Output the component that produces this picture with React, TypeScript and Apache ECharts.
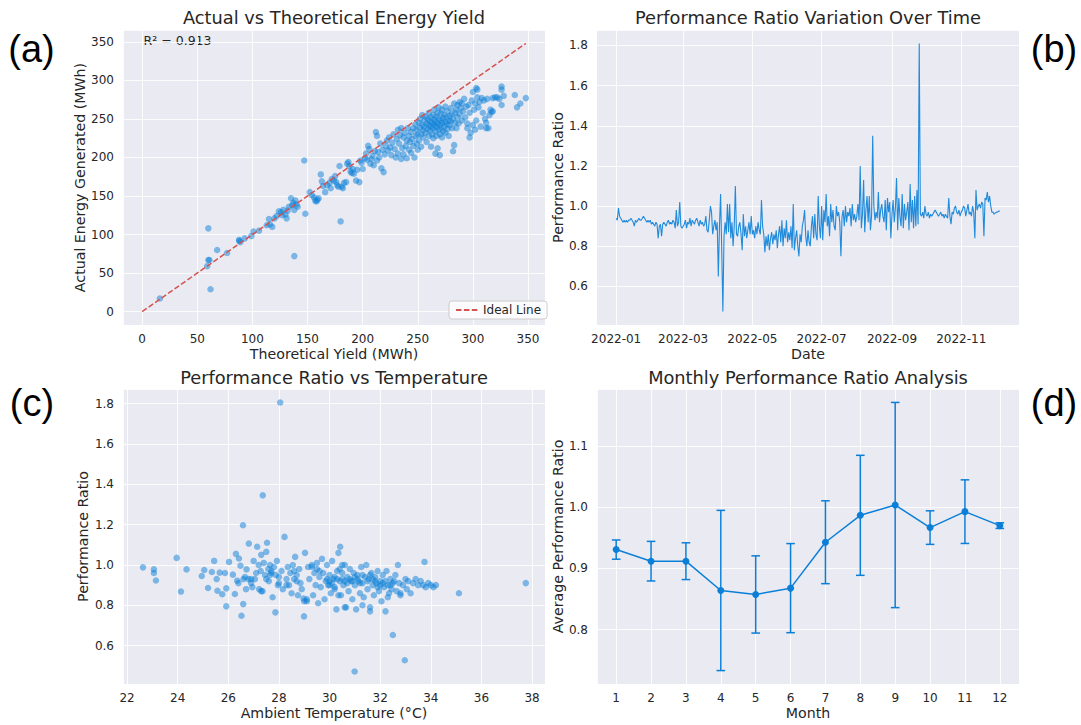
import React, { useEffect, useRef } from "react";
import * as echarts from "echarts";

// ---------- DATA ----------
// (a) [theoretical yield, actual energy] in MWh
const yieldPairs: number[][] = [
  [16,17],[59,59],[60,67],[61,67],[60,108],[62,29],[68,80],[77,76],[88,92],[89,90],[88,93],[93,95],[99,98],[101,104],[106,105],
  [113,112],[115,120],[116,113],[118,110],[120,121],[122,124],[124,130],[126,129],[127,125],[128,132],[130,126],[131,121],[132,131],
  [133,136],[135,147],[136,138],[137,141],[138,132],[139,144],[140,139],[141,136],[138,72],[147,196],[148,127],
  [152,155],[154,151],[156,148],[157,144],[158,143],[159,145],[160,147],[162,178],[163,169],[164,163],[166,155],[168,164],[170,167],
  [171,160],[172,172],[174,170],[175,176],[176,168],[177,164],[178,162],[179,189],[180,117],[181,162],[182,160],[183,167],[185,168],
  [186,192],[187,194],[188,189],[189,182],[190,180],[191,185],[192,179],[194,170],[195,184],[197,168],[198,196],[199,193],[200,185],
  [202,199],[203,205],[204,197],[205,215],[206,211],[207,192],[208,198],[209,202],[210,190],[211,208],[212,233],[213,228],[213,196],
  [214,207],[215,200],[216,218],[217,186],[218,210],[219,181],[220,204],[221,215],[222,222],[223,209],[224,226],[225,213],[226,203],
  [227,219],[228,230],[229,211],[230,200],[231,224],[232,236],[232,205],[233,218],[234,229],[235,198],[235,238],[236,212],[237,204],
  [237,226],[238,232],[239,215],[240,222],[240,199],[241,238],[242,210],[242,228],[243,220],[244,206],[244,233],[245,224],[246,215],
  [246,238],[247,200],[248,228],[248,243],[249,218],[249,236],[250,210],[250,230],
  [251,245],[251,222],[252,238],[252,250],[253,230],[253,214],[254,242],[254,255],[255,235],[255,226],[256,248],[256,240],[257,232],
  [257,253],[258,220],[258,244],[259,237],[259,250],[260,228],[260,258],[260,242],[261,235],[261,247],[262,252],[262,214],[262,240],
  [263,230],[263,245],[264,255],[264,238],[264,225],[265,249],[265,242],[265,262],[266,234],[266,246],[266,205],[267,253],[267,240],
  [267,228],[268,244],[268,258],[268,212],[269,236],[269,250],[269,265],[270,242],[270,230],[270,203],[271,248],[271,257],[271,238],
  [272,245],[272,226],[272,262],[273,251],[273,234],[274,240],[274,255],[275,246],[275,232],[275,266],[276,243],[276,252],[277,237],
  [277,260],[278,248],[278,228],[279,254],[279,242],[280,264],[280,247],[281,238],[281,256],[282,208],[282,250],[283,216],[283,270],
  [284,245],[284,258],[285,262],[285,238],[286,252],[286,268],[287,244],[288,272],[288,256],[289,264],[290,248],[290,270],
  [291,260],[292,276],[293,252],[294,266],[295,244],[295,238],[296,268],[297,226],[297,258],[298,232],[299,274],[300,285],[300,242],
  [301,262],[302,236],[302,270],[303,248],[303,290],[304,288],[304,278],[305,265],[306,272],[307,240],[308,277],[309,258],[310,274],
  [311,250],[312,245],[312,238],[313,276],[314,238],[315,255],[316,262],[317,259],[318,277],[318,260],[320,278],[322,278],[324,276],
  [326,288],[326,268],[326,292],[328,280],[338,281],[340,265],[343,270],[348,277]
];
const idealLine: number[][] = [[0, 0], [348, 348]];
const r2Text = "R² = 0.913";

// (b) daily performance ratio, starting 2022-01-01
const startDate = "2022-01-01";
const dailyPR: number[] = [
  // Jan
  0.94,0.93,0.99,0.95,0.94,0.93,0.92,0.93,0.92,0.93,0.92,0.93,0.93,0.94,0.93,0.92,0.90,0.93,0.92,0.93,0.94,0.93,0.93,0.94,0.95,0.94,0.93,0.92,0.93,0.92,0.93,
  // Feb
  0.91,0.92,0.91,0.90,0.92,0.91,0.84,0.90,0.91,0.85,0.91,0.92,0.91,0.90,0.92,0.93,0.91,0.92,0.91,0.93,0.92,0.89,0.98,0.90,0.92,1.02,0.90,0.89,
  // Mar
  0.90,0.91,0.93,0.89,0.92,0.91,0.94,0.90,0.93,0.92,0.91,0.93,0.94,0.92,0.90,0.93,0.91,0.92,0.90,0.91,0.95,0.88,0.87,0.93,1.00,0.97,0.86,0.90,0.93,0.88,0.92,
  // Apr
  0.65,0.90,1.06,0.78,0.475,0.85,0.92,0.86,1.01,0.87,1.01,0.84,0.92,0.80,0.90,1.10,0.86,0.85,0.90,0.92,0.86,0.78,0.96,0.85,0.90,0.84,0.88,0.92,0.86,0.95,
  // May
  0.86,0.88,0.84,0.90,0.86,0.92,0.88,0.86,1.03,0.90,0.86,0.77,0.85,0.80,0.86,0.78,0.84,0.87,0.81,0.86,0.83,0.88,0.79,0.86,0.90,0.82,0.93,0.80,0.89,0.84,0.93,
  // Jun
  0.82,0.87,0.83,0.90,0.79,1.01,0.78,0.84,0.88,0.80,0.75,0.86,0.82,0.90,0.93,0.98,0.85,0.80,0.88,0.82,0.80,0.90,0.95,0.84,0.96,0.86,0.83,1.05,0.90,0.84,
  // Jul
  1.00,0.83,0.98,0.92,1.06,0.90,0.95,0.85,1.01,0.92,0.98,0.90,0.88,1.00,0.95,0.97,0.92,0.75,0.95,0.98,0.90,1.00,0.92,0.97,0.95,0.99,0.90,1.01,0.93,0.96,0.92,
  // Aug
  0.95,1.01,0.93,1.20,0.89,0.96,1.13,0.87,0.98,1.05,0.92,1.05,0.88,0.95,1.35,1.00,0.93,0.97,0.94,1.07,0.92,0.98,1.01,0.95,0.92,1.03,0.88,1.04,0.97,1.02,0.84,
  // Sep
  0.96,1.03,0.92,0.99,1.14,0.88,1.04,0.95,0.90,1.06,0.89,1.01,0.93,0.97,1.02,0.88,1.11,0.92,1.03,0.89,1.05,0.90,1.08,0.91,1.81,0.96,0.95,0.97,0.94,1.00,
  // Oct
  0.96,0.95,0.97,0.94,0.96,0.95,0.96,0.97,0.98,0.97,0.96,0.95,0.96,0.97,0.95,0.96,0.94,0.96,0.95,0.94,1.04,0.95,0.91,0.97,0.96,0.99,1.00,0.97,0.96,0.98,0.95,
  // Nov
  0.97,0.98,1.00,0.99,0.95,0.98,1.01,0.96,0.97,0.95,1.00,0.97,0.84,1.08,0.98,1.00,1.01,0.99,1.02,1.01,0.85,1.04,1.03,1.07,1.02,1.05,1.00,0.97,0.97,0.96,
  // Dec
  0.965,0.97,0.97,0.975,0.975
];
const dateTicks: string[] = ["2022-01-01", "2022-03-01", "2022-05-01", "2022-07-01", "2022-09-01", "2022-11-01"];

// (c) [ambient temperature °C, performance ratio]
const tempPR: number[][] = [
  [22.63,0.988],[23.06,0.978],[23.06,0.960],[23.14,0.923],[23.96,1.035],[24.13,0.868],[24.35,0.978],[28.05,1.805],[27.36,1.345],
  [26.58,1.197],[28.22,1.139],[30.99,0.472],[32.5,0.653],[32.97,0.528],[35.11,0.86],[37.75,0.91],[33.75,1.015],
  [24.95,0.945],[25.05,0.975],[25.2,0.886],[25.35,0.965],[25.44,1.02],[25.54,0.93],[25.57,0.872],[25.66,0.962],[25.76,0.855],
  [25.87,0.96],[25.92,0.795],[25.92,0.884],[26.03,1.015],[26.18,0.952],[26.26,0.856],[26.3,1.055],[26.35,0.922],[26.42,1.032],
  [26.52,0.748],[26.59,0.806],[26.48,0.996],[26.6,0.93],[26.66,0.94],[26.72,0.978],[26.81,1.106],[26.9,0.91],[26.95,0.89],
  [27.0,1.02],[27.05,0.93],[27.1,0.96],[27.14,1.09],[27.2,1.0],[27.22,0.88],[27.28,0.97],[27.3,1.05],[27.35,0.87],[27.4,1.01],
  [27.45,0.95],[27.5,1.065],[27.53,1.11],[27.58,0.98],[27.6,0.92],[27.65,1.0],[27.7,0.96],[27.75,0.84],[27.8,0.99],[27.86,0.765],
  [27.88,0.95],[27.92,1.02],[27.96,0.9],[28.0,0.94],[28.1,0.97],[28.15,0.88],[28.3,0.93],[28.35,0.99],[28.4,0.9],[28.45,0.96],
  [28.5,0.86],[28.55,1.0],[28.6,0.93],[28.64,1.04],[28.7,0.95],[28.75,0.85],[28.8,0.98],[28.85,0.91],[28.9,0.88],[28.97,0.834],
  [28.99,0.745],[29.03,1.06],[29.1,0.82],[29.15,0.99],[29.2,0.93],[29.3,1.0],[29.35,0.85],[29.4,0.96],[29.45,0.9],[29.5,1.01],
  [29.55,0.81],[29.6,0.94],[29.65,0.89],[29.7,1.03],[29.75,0.96],[29.8,0.83],[29.85,0.92],[29.9,1.0],[29.95,0.9],[30.0,0.95],
  [30.05,0.86],[30.1,1.02],[30.15,0.93],[30.2,0.88],[30.27,0.78],[30.3,0.97],[30.35,1.06],[30.4,0.92],[30.42,1.09],[30.45,0.85],
  [30.5,0.96],[30.55,0.9],[30.6,1.0],[30.65,0.79],[30.7,0.94],[30.75,0.87],[30.8,0.98],[30.85,0.92],[30.9,0.83],[30.95,0.96],
  [31.0,0.9],[31.05,0.78],[31.1,0.95],[31.15,0.92],[31.2,0.86],[31.25,0.99],[31.3,0.91],[31.35,0.84],[31.4,0.94],[31.45,1.0],
  [31.5,0.88],[31.55,0.93],[31.6,0.77],[31.65,0.96],[31.7,0.9],[31.75,0.85],[31.8,0.94],[31.85,0.91],[31.9,0.97],[31.95,0.87],
  [32.0,0.92],[32.05,0.82],[32.1,0.95],[32.15,0.89],[32.21,0.77],[32.25,0.97],[32.3,0.9],[32.35,0.86],[32.4,0.93],[32.45,0.88],
  [32.55,0.92],[32.6,0.95],[32.65,0.87],[32.7,1.0],[32.75,0.91],[32.8,0.85],[32.9,0.9],[33.0,0.93],[33.05,0.88],[33.1,0.92],
  [33.2,0.86],[33.3,0.91],[33.4,0.93],[33.5,0.9],[33.6,0.92],[33.7,0.9],[33.8,0.89],[33.9,0.91],[34.0,0.9],[34.1,0.89],[34.2,0.9],
  [29.9,0.93],[30.0,0.92],[30.1,0.91],[30.2,0.94],[30.3,0.93],[30.5,0.93],[30.6,0.92],[30.7,0.91],[30.8,0.93],[30.9,0.92],
  [31.0,0.94],[31.1,0.93],[31.2,0.91],[31.5,0.92],[31.7,0.93],[31.8,0.92],[32.0,0.9],[32.1,0.91],[32.2,0.92],[32.4,0.9],
  [32.5,0.91],[27.7,0.97],[27.65,0.95],[28.6,0.97],[28.7,0.92],[29.5,0.98],[29.6,0.97],[30.4,0.98],[30.5,1.0],[31.3,0.95],
  [31.6,0.95],[29.3,0.99],[26.8,0.93],[26.9,0.93],[27.5,0.93],[28.0,0.91],[28.3,0.9],[30.0,0.9],[30.2,0.89],[31.9,0.89],
  [32.3,0.84],[32.8,0.86],[29.0,0.82],[29.1,0.83],[30.35,0.85],[30.6,0.79],[31.3,0.8],[31.6,0.79],[27.3,0.87],[26.4,0.91],[26.7,0.88]
];

// (d) monthly mean ± std
const months: number[] = [1, 2, 3, 4, 5, 6, 7, 8, 9, 10, 11, 12];
const monthlyMean: number[] = [0.9307, 0.9118, 0.9118, 0.864, 0.8575, 0.8678, 0.9427, 0.9866, 1.0034, 0.9666, 0.9926, 0.9698];
const monthlyStd: number[] = [0.0157, 0.0323, 0.030, 0.1307, 0.063, 0.0727, 0.0676, 0.0979, 0.1674, 0.0274, 0.0519, 0.0046];

// ---------- STYLE ----------
const BLUE = "#0a7fd8";
const RED = "#d4524f";
const TEXT = "#262626";
const BG = "#EAEAF2";
const FONT = "DejaVu Sans";
const DAY = 86400000;

function parseUTC(s: string): number {
  const [y, m, d] = s.split("-").map(Number);
  return Date.UTC(y, m - 1, d);
}

export default function App() {
  const ref = useRef<HTMLDivElement>(null);

  useEffect(() => {
    if (!ref.current) return;
    const chart = echarts.init(ref.current, null, { renderer: "svg" });

    const t0 = parseUTC(startDate);
    const prSeries = dailyPR.map((v, i) => [t0 + i * DAY, v]);
    const tickTs = dateTicks.map(parseUTC);

    const splitLine = { show: true, lineStyle: { color: "rgba(255,255,255,0.85)", width: 1 } };
    const axisLabel = (extra: any = {}) => ({
      color: TEXT, fontSize: 12, fontFamily: FONT, margin: 8,
      showMinLabel: false, showMaxLabel: false, ...extra,
    });
    const fmt1 = (v: number) => v.toFixed(1);
    const nameStyle = { color: TEXT, fontSize: 14.2, fontFamily: FONT };
    const base = {
      axisLine: { show: false },
      axisTick: { show: false },
      splitLine,
      nameLocation: "middle",
      nameTextStyle: nameStyle,
    };

    const grids = [
      { left: 123, top: 30, width: 422, height: 295 },
      { left: 597, top: 30, width: 422, height: 295 },
      { left: 123, top: 389, width: 422, height: 295 },
      { left: 597, top: 389, width: 422, height: 295 },
    ].map((g) => ({ ...g, show: true, backgroundColor: BG, borderWidth: 0 }));

    const errorBarData = months.map((m, i) => [m, monthlyMean[i], monthlyStd[i]]);

    const title = (text: string, x: number, y: number) => ({
      type: "text", x, y,
      style: { text, fill: TEXT, font: `17.8px '${FONT}'`, textAlign: "center", textVerticalAlign: "middle" },
    });
    const panel = (text: string, x: number, y: number) => ({
      type: "text", x, y,
      style: { text, fill: "#000", font: `38px 'Liberation Sans'`, textAlign: "center", textVerticalAlign: "middle" },
    });

    chart.setOption({
      animation: false,
      backgroundColor: "#ffffff",
      grid: grids,
      xAxis: [
        { ...base, gridIndex: 0, type: "value", min: -17.4, max: 365.4, splitNumber: 7,
          name: "Theoretical Yield (MWh)", nameGap: 22, axisLabel: axisLabel() },
        { ...base, gridIndex: 1, type: "value", min: t0 - 16.9 * DAY, max: t0 + 354.9 * DAY,
          name: "Date", nameGap: 22,
          axisTick: { show: false, customValues: tickTs },
          axisLabel: {
            color: TEXT, fontSize: 12, fontFamily: FONT, margin: 8, customValues: tickTs,
            formatter: (v: number) => {
              const d = new Date(v);
              return `${d.getUTCFullYear()}-${String(d.getUTCMonth() + 1).padStart(2, "0")}`;
            },
          } },
        { ...base, gridIndex: 2, type: "value", min: 21.84, max: 38.51, splitNumber: 8,
          name: "Ambient Temperature (°C)", nameGap: 22, axisLabel: axisLabel() },
        { ...base, gridIndex: 3, type: "value", min: 0.45, max: 12.55, splitNumber: 12,
          name: "Month", nameGap: 22, axisLabel: axisLabel() },
      ],
      yAxis: [
        { ...base, gridIndex: 0, type: "value", min: -17.4, max: 365.4, splitNumber: 7,
          name: "Actual Energy Generated (MWh)", nameGap: 36, axisLabel: axisLabel({ margin: 9 }) },
        { ...base, gridIndex: 1, type: "value", min: 0.408, max: 1.877, splitNumber: 7,
          name: "Performance Ratio", nameGap: 32, axisLabel: axisLabel({ margin: 9, formatter: fmt1 }) },
        { ...base, gridIndex: 2, type: "value", min: 0.41, max: 1.872, splitNumber: 7,
          name: "Performance Ratio", nameGap: 33, axisLabel: axisLabel({ margin: 9, formatter: fmt1 }) },
        { ...base, gridIndex: 3, type: "value", min: 0.7114, max: 1.1927, splitNumber: 5,
          name: "Average Performance Ratio", nameGap: 32, axisLabel: axisLabel({ margin: 9, formatter: fmt1 }) },
      ],
      legend: {
        data: ["Ideal Line"],
        left: 449, top: 301,
        itemWidth: 22, itemHeight: 10, itemGap: 5,
        itemStyle: { opacity: 0 },
        backgroundColor: "rgba(255,255,255,0.8)",
        borderColor: "#cccccc", borderWidth: 1, borderRadius: 3,
        padding: [3, 6, 3, 6],
        textStyle: { color: TEXT, fontSize: 12, fontFamily: FONT },
      },
      series: [
        { type: "scatter", name: "yield", xAxisIndex: 0, yAxisIndex: 0, data: yieldPairs,
          symbolSize: 6.5, itemStyle: { color: BLUE, opacity: 0.5 } },
        { type: "line", name: "Ideal Line", xAxisIndex: 0, yAxisIndex: 0, data: idealLine,
          symbol: "none", lineStyle: { color: RED, width: 1.5, type: [5.5, 2.4] }, itemStyle: { color: RED } },
        { type: "line", name: "pr", xAxisIndex: 1, yAxisIndex: 1, data: prSeries,
          symbol: "none", lineStyle: { color: BLUE, width: 1.1, opacity: 0.9 } },
        { type: "scatter", name: "temp", xAxisIndex: 2, yAxisIndex: 2, data: tempPR,
          symbolSize: 6.5, itemStyle: { color: BLUE, opacity: 0.5 } },
        { type: "custom", name: "err", xAxisIndex: 3, yAxisIndex: 3, data: errorBarData,
          encode: { x: 0, y: 1 },
          renderItem: (params: any, api: any) => {
            const x = api.value(0), m = api.value(1), s = api.value(2);
            const top = api.coord([x, m + s]);
            const bot = api.coord([x, m - s]);
            const cw = 4.3;
            const st = { stroke: BLUE, lineWidth: 1.5 };
            return {
              type: "group",
              children: [
                { type: "line", shape: { x1: top[0], y1: top[1], x2: bot[0], y2: bot[1] }, style: st },
                { type: "line", shape: { x1: top[0] - cw, y1: top[1], x2: top[0] + cw, y2: top[1] }, style: st },
                { type: "line", shape: { x1: bot[0] - cw, y1: bot[1], x2: bot[0] + cw, y2: bot[1] }, style: st },
              ],
            };
          } },
        { type: "line", name: "monthly", xAxisIndex: 3, yAxisIndex: 3,
          data: months.map((m, i) => [m, monthlyMean[i]]),
          symbol: "circle", symbolSize: 7, lineStyle: { color: BLUE, width: 1.5 }, itemStyle: { color: BLUE } },
      ],
      graphic: [
        title("Actual vs Theoretical Energy Yield", 334, 17.5),
        title("Performance Ratio Variation Over Time", 808, 17.5),
        title("Performance Ratio vs Temperature", 334, 377.5),
        title("Monthly Performance Ratio Analysis", 808, 377.5),
        panel("(a)", 31.5, 48.5),
        panel("(b)", 1054, 48.5),
        panel("(c)", 32, 403),
        panel("(d)", 1054, 403),
        { type: "text", x: 143.6, y: 40,
          style: { text: r2Text, fill: TEXT, font: `12.5px '${FONT}'`, textAlign: "left", textVerticalAlign: "middle" } },
      ],
    });

    return () => chart.dispose();
  }, []);

  return (
    <div
      ref={ref}
      style={{ position: "absolute", left: 0, top: 0, width: 1081, height: 725 }}
    />
  );
}
